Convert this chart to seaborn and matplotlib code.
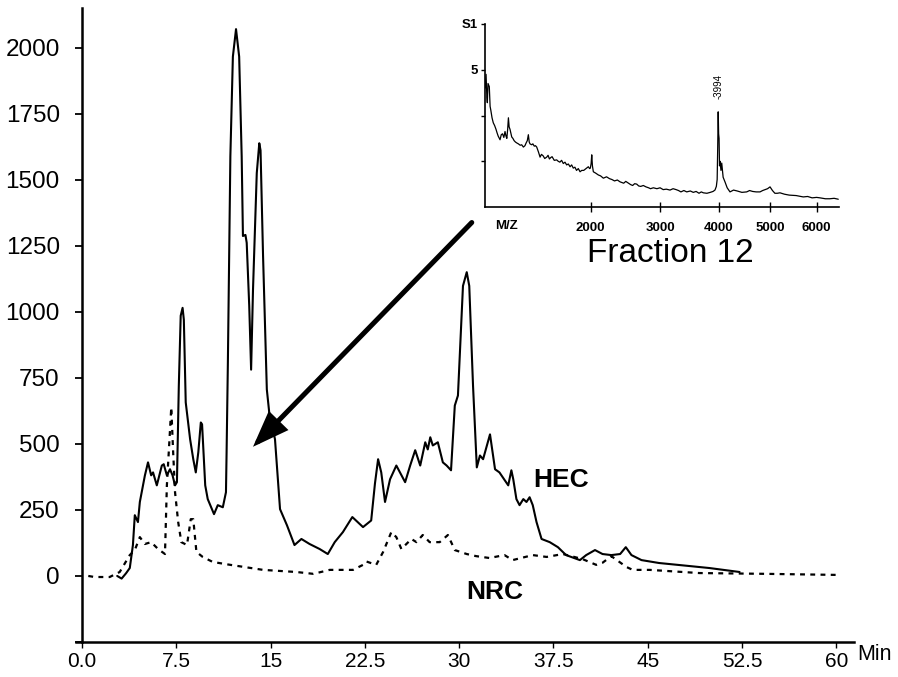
import numpy as np
import pandas as pd
import seaborn as sns
import matplotlib
matplotlib.use("Agg")
import matplotlib.pyplot as plt
from matplotlib import font_manager

# ---------------- data ----------------
hec_time = [2.8, 3.15, 3.5, 3.8, 4.05, 4.2, 4.45, 4.6, 5.0, 5.25, 5.5, 5.65, 5.95, 6.35, 6.5,
            6.75, 7.0, 7.2, 7.4, 7.55, 7.7, 7.85, 8.0, 8.1, 8.25, 8.6, 8.85, 9.05, 9.25, 9.45,
            9.55, 9.8, 10.0, 10.5, 10.8, 11.2, 11.45, 11.5, 11.6, 11.8, 12.0, 12.25, 12.5, 12.7,
            12.8, 13.0, 13.1, 13.3, 13.45, 13.6, 13.9, 14.1, 14.2, 14.4, 14.7, 14.95, 15.1, 15.35,
            15.75, 16.3, 16.9, 17.45, 18.1, 18.9, 19.55, 20.1, 20.75, 21.5, 22.35, 23.0, 23.3,
            23.55, 23.8, 24.1, 24.5, 25.0, 25.7, 26.1, 26.5, 26.9, 27.3, 27.5, 27.7, 27.9, 28.3,
            28.7, 29.0, 29.35, 29.65, 29.9, 30.3, 30.6, 30.8, 31.1, 31.4, 31.65, 31.9, 32.45,
            32.85, 33.2, 33.9, 34.15, 34.3, 34.55, 34.8, 35.1, 35.35, 35.6, 35.85, 36.15, 36.55,
            37.2, 37.85, 38.5, 39.6, 40.1, 40.8, 41.4, 42.1, 42.8, 43.25, 43.7, 44.5, 45.9, 47.8,
            49.9, 52.3]
hec_signal = [0, -10, 10, 30, 117, 230, 204, 280, 380, 430, 381, 392, 343, 418, 423,
              381, 404, 381, 343, 355, 720, 985, 1015, 970, 657, 517, 442, 392, 468, 581,
              574, 343, 291, 234, 268, 260, 317, 468, 800, 1589, 1966, 2070, 1966, 1589,
              1287, 1291, 1261, 1023, 781, 1083, 1525, 1638, 1611, 1211, 706, 592, 574, 517,
              253, 192, 117, 140, 121, 102, 83, 128, 166, 223, 185, 210, 350,
              442, 392, 280, 366, 418, 355, 418, 476, 418, 506, 479, 525, 494, 506,
              430, 418, 400, 645, 683, 1098, 1150, 1098, 720, 411, 456, 442, 536,
              404, 392, 343, 400, 366, 291, 268, 291, 280, 298, 268, 204, 140,
              128, 109, 79, 60, 79, 98, 83, 79, 83, 109, 79, 60, 49, 40,
              30, 15]

nrc_time = [0.5, 1.0, 2.2, 3.0, 3.8, 4.2, 4.6, 5.0, 5.5, 6.05, 6.6, 6.75, 6.9, 7.1, 7.25, 7.4,
            7.65, 7.9, 8.35, 8.65, 8.85, 9.1, 9.6, 10.4, 11.8, 14.4, 17.05, 18.4, 19.7, 21.55,
            22.35, 22.6, 23.4, 23.95, 24.6, 25.0, 25.4, 26.2, 26.6, 27.1, 27.65, 28.45, 29.1,
            29.65, 30.6, 31.35, 32.4, 33.6, 34.25, 35.85, 36.95, 38.25, 39.8, 40.9, 41.4, 42.1,
            43.3, 43.8, 45.15, 49.1, 54.4, 60.0]
nrc_signal = [0, -4, -4, 15, 79, 98, 147, 121, 128, 102, 83, 343, 468, 638, 468, 317,
              204, 128, 117, 215, 215, 91, 72, 53, 42, 23, 15, 8, 23, 23,
              42, 55, 42, 91, 166, 147, 102, 140, 128, 155, 128, 128, 155,
              98, 83, 75, 68, 79, 60, 79, 72, 83, 64, 42, 50, 75,
              34, 23, 23, 11, 8, 4]

ms_mz = [866, 873, 880, 884, 890, 901, 908, 914, 925, 936, 948, 960, 970, 980, 997, 1008, 1020,
         1032, 1043, 1052, 1060, 1068, 1075, 1082, 1090, 1107, 1118, 1130, 1143, 1156, 1172, 1190,
         1205, 1222, 1238, 1250, 1262, 1273, 1282, 1290, 1308, 1320, 1335, 1348, 1361, 1380, 1397,
         1412, 1430, 1448, 1470, 1485, 1500, 1515, 1530, 1555, 1583, 1600, 1620, 1640, 1660,
         1680, 1700, 1720, 1741, 1760, 1780, 1800, 1820, 1842, 1864, 1885, 1910, 1940, 1969,
         1985, 1995, 2005, 2013, 2022, 2034, 2065, 2100, 2130, 2167, 2210, 2250, 2285, 2320,
         2360, 2398, 2450, 2480, 2520, 2550, 2580, 2610, 2641, 2670, 2700, 2740, 2780, 2820,
         2850, 2894, 2920, 2950, 3000, 3050, 3100, 3160, 3210, 3260, 3300, 3340, 3390, 3438,
         3500, 3550, 3600, 3650, 3690, 3726, 3790, 3850, 3900, 3935, 3960, 3975, 3985, 3994,
         4002, 4010, 4018, 4027, 4045, 4059, 4085, 4119, 4160, 4213, 4280, 4350, 4440, 4533,
         4590, 4650, 4720, 4797, 4850, 4900, 4950, 5000, 5050, 5100, 5150, 5206, 5300, 5400,
         5550, 5705, 5800, 5900, 6000, 6076, 6200, 6300, 6400, 6497]
ms_intensity = [4.60, 4.90, 4.40, 4.28, 4.70, 4.63, 4.20, 4.12, 3.95, 3.84, 3.78, 3.70, 3.62, 3.55,
                3.47, 3.58, 3.60, 3.52, 3.65, 3.55, 3.50, 3.70, 3.95, 3.75, 3.70, 3.53, 3.50,
                3.45, 3.42, 3.40, 3.38, 3.35, 3.36, 3.31, 3.34, 3.40, 3.45, 3.58, 3.42, 3.38, 3.36,
                3.38, 3.33, 3.34, 3.31, 3.20, 3.09, 3.15, 3.12, 3.06, 3.09, 3.13, 3.05, 3.08, 3.10,
                3.02, 3.03, 3.00, 2.98, 3.02, 2.95, 2.98, 2.92, 2.94, 2.88, 2.92, 2.85, 2.87, 2.80,
                2.84, 2.77, 2.80, 2.80, 2.84, 2.88, 2.84, 2.85, 2.95, 3.14, 2.90, 2.77, 2.74, 2.70,
                2.68, 2.63, 2.66, 2.62, 2.60, 2.57, 2.59, 2.55, 2.52, 2.56, 2.52, 2.49, 2.47, 2.51,
                2.50, 2.46, 2.45, 2.47, 2.44, 2.42, 2.40, 2.42, 2.41, 2.40, 2.42, 2.38, 2.39, 2.37,
                2.40, 2.38, 2.36, 2.33, 2.36, 2.33, 2.35, 2.32, 2.34, 2.30, 2.33, 2.31, 2.30, 2.32,
                2.34, 2.37, 2.45, 2.60, 3.30, 4.08, 3.60, 3.50, 2.90, 3.00, 2.80, 2.96, 2.65, 2.55,
                2.42, 2.33, 2.37, 2.35, 2.32, 2.33, 2.36, 2.34, 2.33, 2.33, 2.36, 2.38, 2.40, 2.44,
                2.36, 2.30, 2.30, 2.31, 2.28, 2.26, 2.25, 2.22, 2.23, 2.20, 2.21, 2.20, 2.18, 2.18,
                2.19, 2.17]

x_ticks = [0, 7.5, 15, 22.5, 30, 37.5, 45, 52.5, 60]
x_tick_labels = ["0.0", "7.5", "15", "22.5", "30", "37.5", "45", "52.5", "60"]
y_ticks = [-250, 0, 250, 500, 750, 1000, 1250, 1500, 1750, 2000]
y_tick_labels = ["", "0", "250", "500", "750", "1000", "1250", "1500", "1750", "2000"]
ms_ticks = [2000, 3000, 4000, 5000, 6000]

# ---------------- style ----------------
sns.set_style("ticks")
plt.rcParams["font.family"] = ["Liberation Sans", "DejaVu Sans"]
plt.rcParams["text.color"] = "black"
plt.rcParams["xtick.color"] = "black"
plt.rcParams["ytick.color"] = "black"
plt.rcParams["axes.labelcolor"] = "black"


def has_font(name):
    try:
        font_manager.findfont(font_manager.FontProperties(family=name), fallback_to_default=False)
        return True
    except Exception:
        return False


narrow = ["Liberation Sans Narrow", "Liberation Sans"] if has_font("Liberation Sans Narrow") else ["Liberation Sans"]

W, H = 898, 677
fig = plt.figure(figsize=(W / 100, H / 100), dpi=100)
fig.patch.set_facecolor("white")

L, R, T, B = 82, 854, 8, 642
ax = fig.add_axes([L / W, 1 - B / H, (R - L) / W, (B - T) / H])
ax.set_facecolor("white")

hec = pd.DataFrame({"time": hec_time, "signal": hec_signal})
nrc = pd.DataFrame({"time": nrc_time, "signal": nrc_signal})

sns.lineplot(data=hec, x="time", y="signal", ax=ax, color="black", lw=1.5, estimator=None, sort=False)
sns.lineplot(data=nrc, x="time", y="signal", ax=ax, color="black", lw=1.6, estimator=None, sort=False,
             linestyle=(0, (2.2, 2.4)))

ax.set_xlim(0, 61.4)
ax.set_ylim(-250, 2150)
ax.set_xlabel("")
ax.set_ylabel("")
for s in ["top", "right"]:
    ax.spines[s].set_visible(False)
for s in ["left", "bottom"]:
    ax.spines[s].set_linewidth(1.8)
    ax.spines[s].set_color("black")
ax.spines["bottom"].set_bounds(-0.45, 61.4)

ax.set_xticks(x_ticks)
ax.set_xticklabels(x_tick_labels, family=narrow, fontsize=15, color="black")
ax.set_yticks(y_ticks)
ax.set_yticklabels(y_tick_labels, fontsize=17.5, color="black")
ax.tick_params(axis="y", direction="out", length=5, width=1.3, pad=11, colors="black")
ax.tick_params(axis="x", direction="out", length=4, width=1.0, pad=3, colors="black")

fig.text(857 / W, 1 - 655 / H, "Min", family=narrow, fontsize=15.5, ha="left", va="center", color="black")

# labels
ax.text(35.85, 337, "HEC", fontsize=19, fontweight="bold", ha="left", va="baseline", color="black")
ax.text(30.6, -86, "NRC", fontsize=19, fontweight="bold", ha="left", va="baseline", color="black")

# arrow
ax.annotate("", xy=(13.6, 489), xytext=(31.0, 1338),
            arrowprops=dict(arrowstyle="-|>,head_length=0.75,head_width=0.28", mutation_scale=26,
                            lw=3.6, color="black", shrinkA=0, shrinkB=0, joinstyle="miter"))

# ---------------- inset ----------------
iL, iR, iT, iB = 485, 839, 24, 207
ins = fig.add_axes([iL / W, 1 - iB / H, (iR - iL) / W, (iB - iT) / H])
ins.set_facecolor("none")
ms = pd.DataFrame({"mz": ms_mz, "intensity": ms_intensity})
sns.lineplot(data=ms, x="mz", y="intensity", ax=ins, color="black", lw=0.9, estimator=None, sort=False)
ins.set_xscale("function", functions=(lambda v: np.sqrt(np.clip(v, 0, None)), np.square))
ins.set_xlim(864, 6514)
ins.set_ylim(2, 6)
ins.set_xlabel("")
ins.set_ylabel("")
for s in ["top", "right"]:
    ins.spines[s].set_visible(False)
for s in ["left", "bottom"]:
    ins.spines[s].set_linewidth(1.2)
    ins.spines[s].set_color("black")
ins.set_xticks(ms_ticks)
ins.set_xticklabels([str(t) for t in ms_ticks], fontsize=9.5, fontweight="bold", color="black")
ins.xaxis.set_minor_locator(matplotlib.ticker.NullLocator())
ins.set_yticks([3, 4, 5, 6])
ins.set_yticklabels(["", "", "5", "S1"], fontsize=9.5, fontweight="bold", color="black")
ins.tick_params(axis="x", direction="inout", length=7, width=1.0, pad=7, colors="black")
ins.tick_params(axis="y", direction="out", length=3, width=1.0, pad=2, colors="black")
ins.text(1060, -0.105, "M/Z", transform=ins.get_xaxis_transform(), fontsize=9.5, fontweight="bold",
         ha="center", va="center", color="black")
ins.text(3994, 4.35, "-3994", fontsize=7, rotation=90, ha="center", va="bottom", color="black")

fig.text(670 / W, 1 - 262 / H, "Fraction 12", fontsize=24, ha="center", va="baseline", color="black")

fig.savefig("out.png", dpi=100, facecolor="white")
